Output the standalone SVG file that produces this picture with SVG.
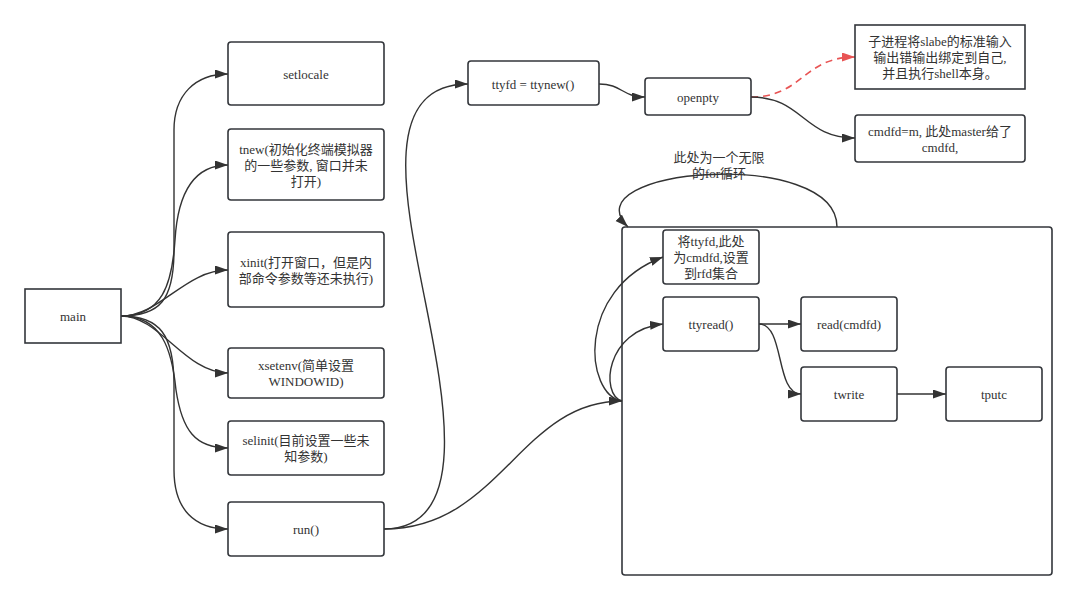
<svg xmlns="http://www.w3.org/2000/svg" width="1077" height="600" viewBox="0 0 1077 600">
<style>
.n{fill:#fff;stroke:#33363b;stroke-width:1.6}
.t{font-family:"Liberation Serif","Noto Sans CJK SC",serif;font-size:13px;fill:#333;text-anchor:middle}
.c{fill:none;stroke:#333;stroke-width:1.4}
.r{fill:none;stroke:#e85454;stroke-width:1.6;stroke-dasharray:7,5}
</style>
<defs>
<marker id="a" markerUnits="userSpaceOnUse" markerWidth="14" markerHeight="10" refX="13" refY="4.5" orient="auto"><path d="M0,0 L13,4.5 L0,9 z" fill="#333"/></marker>
<marker id="ar" markerUnits="userSpaceOnUse" markerWidth="14" markerHeight="10" refX="13" refY="4.5" orient="auto"><path d="M0,0 L13,4.5 L0,9 z" fill="#e85454"/></marker>
</defs>
<rect width="1077" height="600" fill="#fff"/>
<g id="container"><rect class="n" x="622" y="227" width="430" height="348" rx="3"/></g>
<g id="connectors">
<path class="c" marker-end="url(#a)" d="M121,316 C160,316 174,300 174,250 L174,130 C174,95 195,74 228,74"/>
<path class="c" marker-end="url(#a)" d="M121,316 C162,316 172,285 175,240 C178,190 195,165 228,165"/>
<path class="c" marker-end="url(#a)" d="M121,316 C160,316 185,270 228,270"/>
<path class="c" marker-end="url(#a)" d="M121,316 C160,316 185,373 228,373"/>
<path class="c" marker-end="url(#a)" d="M121,316 C162,316 172,350 176,390 C182,430 195,448 228,448"/>
<path class="c" marker-end="url(#a)" d="M121,316 C160,316 174,335 174,385 L174,470 C174,510 195,529 228,529"/>
<path class="c" marker-end="url(#a)" d="M384,529 C470,529 445,400 425,300 C405,200 380,84 468,84"/>
<path class="c" marker-end="url(#a)" d="M384,529 C500,529 520,401 622,401"/>
<path class="c" marker-end="url(#a)" d="M622,401 C585,395 575,290 663,257"/>
<path class="c" marker-end="url(#a)" d="M622,401 C600,395 605,330 663,324"/>
<path class="c" marker-end="url(#a)" d="M599,84 C622,84 622,97 645,97"/>
<path class="r" marker-end="url(#ar)" d="M751,97 C803,97 803,57 855,57"/>
<path class="c" marker-end="url(#a)" d="M751,97 C803,97 803,138 855,138"/>
<path class="c" marker-end="url(#a)" d="M837,227 C837,146 568,168 628,227"/>
<path class="c" marker-end="url(#a)" d="M759,324 L801,324"/>
<path class="c" marker-end="url(#a)" d="M759,324 C785,324 775,394 801,394"/>
<path class="c" marker-end="url(#a)" d="M897,394 L946,394"/>
</g>
<g id="loop-label"><text class="t" x="719" y="162">此处为一个无限</text><text class="t" x="719" y="178">的for循环</text></g>
<g id="main"><rect class="n" x="25" y="289" width="96" height="54"/><text class="t" x="73" y="321">main</text></g>
<g id="setlocale"><rect class="n" x="228" y="42" width="156" height="63" rx="3"/><text class="t" x="306" y="79">setlocale</text></g>
<g id="tnew"><rect class="n" x="228" y="129" width="156" height="71" rx="3"/><text class="t" x="306" y="154">tnew(初始化终端模拟器</text><text class="t" x="306" y="170">的一些参数, 窗口并未</text><text class="t" x="306" y="186">打开)</text></g>
<g id="xinit"><rect class="n" x="228" y="232" width="156" height="75" rx="3"/><text class="t" x="306" y="267">xinit(打开窗口，但是内</text><text class="t" x="306" y="283">部命令参数等还未执行)</text></g>
<g id="xsetenv"><rect class="n" x="228" y="348" width="156" height="50" rx="3"/><text class="t" x="306" y="370">xsetenv(简单设置</text><text class="t" x="306" y="386">WINDOWID)</text></g>
<g id="selinit"><rect class="n" x="228" y="421" width="156" height="54" rx="3"/><text class="t" x="306" y="445">selinit(目前设置一些未</text><text class="t" x="306" y="461">知参数)</text></g>
<g id="run"><rect class="n" x="228" y="502" width="156" height="54" rx="3"/><text class="t" x="306" y="534">run()</text></g>
<g id="ttyfd"><rect class="n" x="468" y="61" width="131" height="44" rx="3"/><text class="t" x="533" y="89">ttyfd = ttynew()</text></g>
<g id="openpty"><rect class="n" x="645" y="78" width="106" height="37" rx="3"/><text class="t" x="698" y="102">openpty</text></g>
<g id="child"><rect class="n" x="855" y="25" width="170" height="64"/><text class="t" x="940" y="46">子进程将slabe的标准输入</text><text class="t" x="940" y="62">输出错输出绑定到自己,</text><text class="t" x="940" y="78">并且执行shell本身。</text></g>
<g id="cmdfd"><rect class="n" x="855" y="115" width="170" height="47" rx="3"/><text class="t" x="940" y="136">cmdfd=m, 此处master给了</text><text class="t" x="940" y="152">cmdfd,</text></g>
<g id="rfd"><rect class="n" x="663" y="230" width="96" height="54" rx="3"/><text class="t" x="711" y="246">将ttyfd,此处</text><text class="t" x="711" y="262">为cmdfd,设置</text><text class="t" x="711" y="278">到rfd集合</text></g>
<g id="ttyread"><rect class="n" x="663" y="297" width="96" height="54" rx="3"/><text class="t" x="711" y="329">ttyread()</text></g>
<g id="read"><rect class="n" x="801" y="297" width="96" height="54" rx="3"/><text class="t" x="849" y="329">read(cmdfd)</text></g>
<g id="twrite"><rect class="n" x="801" y="367" width="96" height="54" rx="3"/><text class="t" x="849" y="399">twrite</text></g>
<g id="tputc"><rect class="n" x="946" y="367" width="96" height="54" rx="3"/><text class="t" x="994" y="399">tputc</text></g>
</svg>
